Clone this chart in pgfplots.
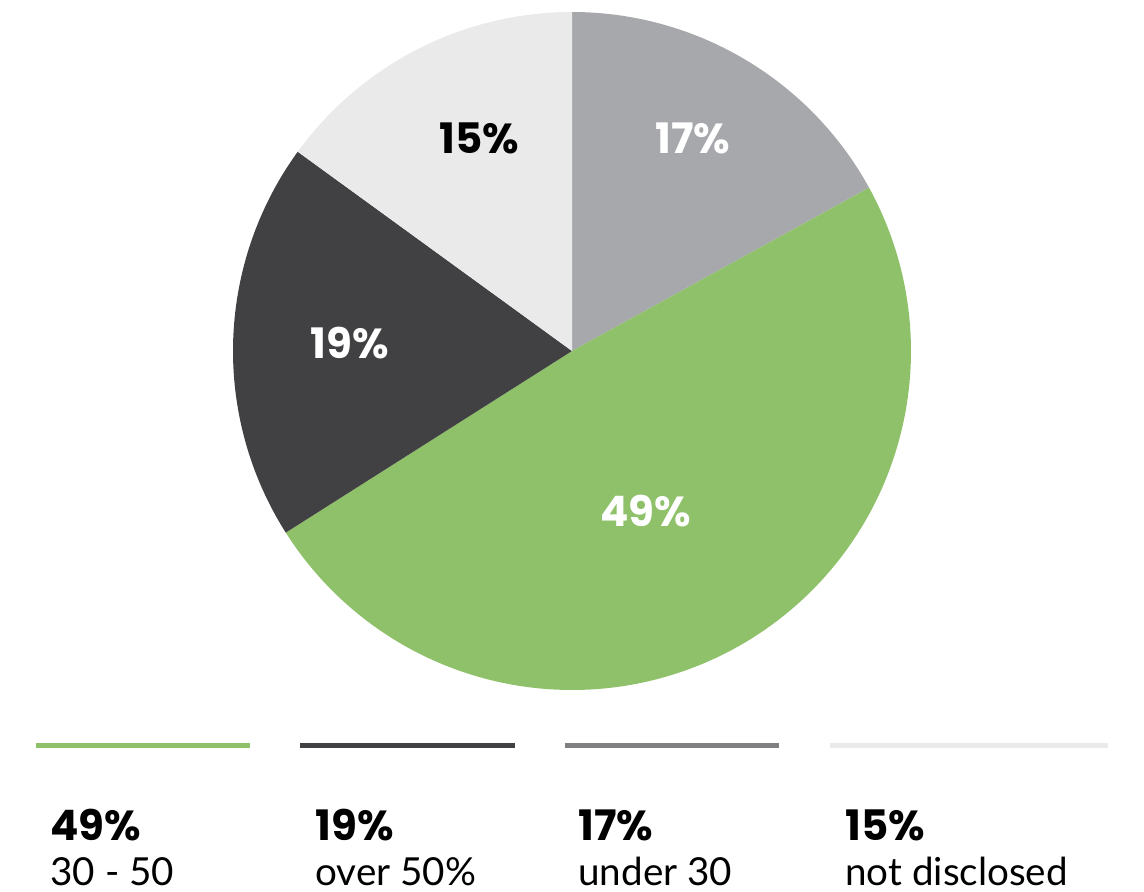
\documentclass[border=0pt]{standalone}
\usepackage{fontspec}
\setmainfont{Poppins}
\newfontfamily\lato{Lato}
\usepackage{pgfplots}
\pgfplotsset{compat=1.18}
\definecolor{cGreen}{HTML}{8FC16B}
\definecolor{cDark}{HTML}{414042}
\definecolor{cGrey}{HTML}{A7A8AB}
\definecolor{cLight}{HTML}{EAEAEA}
\definecolor{cGreyLine}{HTML}{808082}
% shares (percent), clockwise from 12 o'clock
\def\pUnder{17}
\def\pMid{49}
\def\pOver{19}
\def\pNone{15}
\pgfmathsetmacro\aA{90}
\pgfmathsetmacro\aB{\aA-3.6*\pUnder}
\pgfmathsetmacro\aC{\aB-3.6*\pMid}
\pgfmathsetmacro\aD{\aC-3.6*\pOver}
\pgfmathsetmacro\aE{\aD-3.6*\pNone}
\begin{document}
\begin{tikzpicture}
\begin{axis}[anchor=center, scale only axis,
  width=339pt, height=339pt, xmin=-1, xmax=1, ymin=-1, ymax=1,
  hide axis, clip=false]
\addplot[fill=cGrey, draw=none, domain=\aB:\aA, samples=120] ({cos(x)},{sin(x)}) -- (axis cs:0,0) -- cycle;
\addplot[fill=cGreen, draw=none, domain=\aC:\aB, samples=240] ({cos(x)},{sin(x)}) -- (axis cs:0,0) -- cycle;
\addplot[fill=cDark, draw=none, domain=\aD:\aC, samples=120] ({cos(x)},{sin(x)}) -- (axis cs:0,0) -- cycle;
\addplot[fill=cLight, draw=none, domain=\aE:\aD, samples=120] ({cos(x)},{sin(x)}) -- (axis cs:0,0) -- cycle;
\node[text=white, font=\fontsize{21}{24}\selectfont\bfseries] at (axis cs:0.357,0.628) {\pUnder\%};
\node[text=white, font=\fontsize{21}{24}\selectfont\bfseries] at (axis cs:0.218,-0.472) {\pMid\%};
\node[text=white, font=\fontsize{21}{24}\selectfont\bfseries] at (axis cs:-0.655,0.024) {\pOver\%};
\node[text=black, font=\fontsize{21}{24}\selectfont\bfseries] at (axis cs:-0.274,0.628) {\pNone\%};
\end{axis}
\begin{scope}[x=0.5pt,y=0.5pt,shift={(-572,-541)}]
\path (0,0) rectangle (1144,892);
% legend
\draw[cGreen, line width=2.5pt] (36,147) -- (250,147);
\draw[cDark, line width=2.5pt] (300,147) -- (515,147);
\draw[cGreyLine, line width=2.5pt] (565,147) -- (779,147);
\draw[cLight, line width=2.5pt] (830,147) -- (1108,147);
\tikzset{lb/.style={anchor=base west, inner sep=0pt, font=\fontsize{21}{24}\selectfont\bfseries},
         lr/.style={anchor=base west, inner sep=0pt, font=\fontsize{19.3}{24}\selectfont\lato}}
\node[lb] at (50,52) {\pMid\%};
\node[lr] at (50,7) {30 - 50};
\node[lb] at (315,52) {\pOver\%};
\node[lr] at (315,7) {over 50\%};
\node[lb] at (578,52) {\pUnder\%};
\node[lr] at (578,7) {under 30};
\node[lb] at (845,52) {\pNone\%};
\node[lr] at (845,7) {not disclosed};
\end{scope}
\end{tikzpicture}
\end{document}
